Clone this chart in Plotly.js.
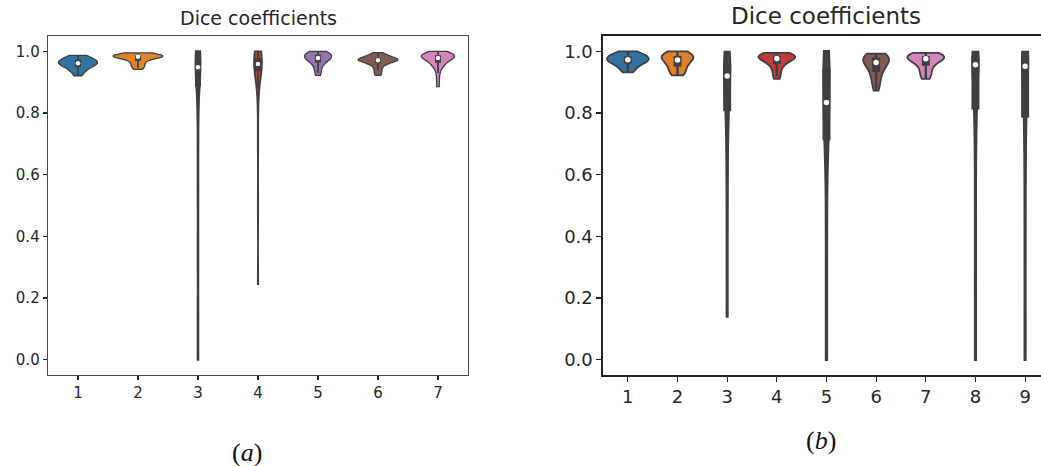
<!DOCTYPE html>
<html><head><meta charset="utf-8">
<script src="https://cdn.plot.ly/plotly-3.0.1.min.js"></script>
<style>html,body{margin:0;padding:0;background:#fff}#chart{width:1041px;height:466px}</style>
</head><body><div id="chart"></div>
<script>
// ---------- data: panel (a) ----------
const catsA = [1, 2, 3, 4, 5, 6, 7];
const a1 = [0.921,0.927,0.933,0.939,0.943,0.946,0.949,0.952,0.955,0.957,0.959,0.960,0.961,0.962,0.963,0.965,0.967,0.969,0.971,0.973,0.975,0.977,0.979,0.982,0.985,0.987];
const a2 = [0.942,0.947,0.952,0.957,0.962,0.967,0.972,0.976,0.979,0.981,0.982,0.983,0.984,0.984,0.985,0.985,0.986,0.987,0.988,0.989,0.990,0.992,0.995];
const a3 = [0.0,0.15,0.35,0.55,0.70,0.80,0.85,0.875,0.89,0.905,0.915,0.925,0.932,0.938,0.943,0.947,0.951,0.955,0.959,0.963,0.967,0.971,0.976,0.981,0.984,0.987,0.990,0.992,0.994,0.996,0.998,1.0];
const a4 = [0.245,0.50,0.70,0.82,0.88,0.91,0.93,0.938,0.942,0.946,0.950,0.953,0.956,0.958,0.960,0.962,0.965,0.968,0.971,0.974,0.977,0.980,0.983,0.986,0.989,0.992,0.996,1.0];
const a5 = [0.922,0.930,0.940,0.950,0.957,0.963,0.967,0.971,0.974,0.976,0.978,0.980,0.982,0.984,0.986,0.988,0.990,0.992,0.994,0.996,0.998,1.0];
const a6 = [0.922,0.930,0.938,0.946,0.953,0.958,0.962,0.965,0.967,0.969,0.970,0.971,0.972,0.973,0.974,0.975,0.976,0.977,0.979,0.981,0.984,0.987,0.991,0.996];
const a7 = [0.886,0.910,0.930,0.945,0.950,0.955,0.962,0.965,0.967,0.971,0.974,0.976,0.978,0.980,0.982,0.984,0.985,0.986,0.987,0.988,0.989,0.990,0.992,0.994,0.997,1.0];

// ---------- data: panel (b) ----------
const catsB = [1, 2, 3, 4, 5, 6, 7, 8, 9];
const b1 = [0.932,0.938,0.944,0.950,0.955,0.959,0.962,0.965,0.967,0.969,0.971,0.973,0.975,0.977,0.979,0.981,0.983,0.985,0.988,0.991,0.994,0.997,1.0];
const b2 = [0.922,0.925,0.928,0.934,0.940,0.946,0.952,0.955,0.958,0.963,0.968,0.971,0.974,0.977,0.979,0.981,0.983,0.985,0.987,0.989,0.991,0.994,0.997,1.0];
const b3 = [0.14,0.30,0.45,0.57,0.66,0.72,0.76,0.795,0.81,0.825,0.84,0.855,0.87,0.885,0.90,0.915,0.925,0.932,0.938,0.943,0.948,0.952,0.956,0.960,0.964,0.968,0.973,0.978,0.983,0.988,0.993,0.998];
const b4 = [0.911,0.920,0.930,0.940,0.948,0.955,0.960,0.965,0.969,0.972,0.974,0.976,0.978,0.980,0.982,0.984,0.985,0.986,0.987,0.988,0.989,0.990,0.992,0.995];
const b5 = [0.0,0.12,0.28,0.42,0.53,0.61,0.67,0.70,0.715,0.73,0.745,0.76,0.775,0.79,0.805,0.825,0.843,0.86,0.875,0.89,0.905,0.918,0.93,0.945,0.955,0.963,0.97,0.977,0.984,0.99,0.995,1.0];
const b6 = [0.873,0.885,0.897,0.908,0.918,0.927,0.935,0.942,0.948,0.953,0.958,0.962,0.966,0.969,0.972,0.975,0.977,0.979,0.981,0.983,0.985,0.988,0.990,0.993];
const b7 = [0.911,0.918,0.926,0.934,0.942,0.950,0.957,0.963,0.968,0.971,0.974,0.976,0.978,0.980,0.982,0.984,0.985,0.986,0.987,0.988,0.990,0.992,0.995];
const b8 = [0.0,0.15,0.32,0.48,0.60,0.70,0.76,0.80,0.815,0.83,0.85,0.87,0.89,0.91,0.93,0.95,0.963,0.968,0.972,0.975,0.978,0.981,0.984,0.986,0.988,0.990,0.992,0.993,0.995,0.996,0.997,0.998];
const b9 = [0.0,0.14,0.30,0.45,0.57,0.67,0.73,0.77,0.79,0.815,0.84,0.86,0.88,0.90,0.925,0.945,0.958,0.965,0.970,0.974,0.978,0.981,0.984,0.986,0.988,0.990,0.992,0.993,0.995,0.996,0.997,0.998];

const yTicks = [0, 0.2, 0.4, 0.6, 0.8, 1.0];
const yTickText = ['0.0', '0.2', '0.4', '0.6', '0.8', '1.0'];

// ---------- styles ----------
const seriesA = [a1, a2, a3, a4, a5, a6, a7];
const seriesB = [b1, b2, b3, b4, b5, b6, b7, b8, b9];
const colorsA = ['#3274a1','#e1812c','#3a923a','#c03d3e','#9372b2','#845b53','#d684bd'];
const colorsB = ['#3274a1','#e1812c','#3a923a','#c03d3e','#9372b2','#845b53','#d684bd','#7f7f7f','#a9aa35'];
const widthsA = [0.65, 0.83, 0.075, 0.13, 0.45, 0.66, 0.55];
const widthsB = [0.84, 0.64, 0.11, 0.74, 0.11, 0.52, 0.74, 0.11, 0.11];
const outlineA = [1.3, 1.3, 2.4, 1.8, 1.3, 1.3, 1.3];
const outlineB = [1.8, 1.8, 2.8, 1.8, 2.8, 1.8, 1.8, 2.8, 2.8];
const bwA = [0, 0, 0.06, 0.05, 0, 0, 0];
const bwB = [0, 0, 0.07, 0, 0.08, 0, 0, 0.07, 0.07];
const DARK = '#3f3f3f';

function quantile(sorted, p) {
  const idx = (sorted.length - 1) * p;
  const lo = Math.floor(idx), hi = Math.ceil(idx);
  return sorted[lo] + (sorted[hi] - sorted[lo]) * (idx - lo);
}

function panelTraces(cats, series, colors, widths, outlines, bws, xa, ya, st) {
  const traces = [];
  cats.forEach((c, i) => {
    const t = {
      type: 'violin', x0: c, y: series[i], xaxis: xa, yaxis: ya,
      width: widths[i], scalegroup: xa + '_' + i, scalemode: 'width',
      spanmode: 'hard', points: false,
      box: {visible: false}, meanline: {visible: false},
      fillcolor: colors[i], line: {color: DARK, width: outlines[i]},
      opacity: 1, hoverinfo: 'skip', showlegend: false
    };
    if (bws[i] > 0) t.bandwidth = bws[i];
    traces.push(t);
  });
  cats.forEach((c, i) => {
    const s = series[i].slice().sort((p, q) => p - q);
    const q1 = quantile(s, 0.25), q2 = quantile(s, 0.5), q3 = quantile(s, 0.75);
    const iqr = q3 - q1;
    const h1 = Math.min(...s.filter(v => v >= q1 - 1.5 * iqr));
    const h2 = Math.max(...s.filter(v => v <= q3 + 1.5 * iqr));
    traces.push({type: 'scatter', mode: 'lines', x: [c, c], y: [h1, h2], xaxis: xa, yaxis: ya,
      line: {color: DARK, width: st.whisker}, hoverinfo: 'skip', showlegend: false});
    traces.push({type: 'scatter', mode: 'lines', x: [c, c], y: [q1, q3], xaxis: xa, yaxis: ya,
      line: {color: DARK, width: st.box}, hoverinfo: 'skip', showlegend: false});
    traces.push({type: 'scatter', mode: 'markers', x: [c], y: [q2], xaxis: xa, yaxis: ya,
      marker: {color: '#ffffff', size: st.dot, line: {width: 0}}, hoverinfo: 'skip', showlegend: false});
  });
  return traces;
}

const data = [].concat(
  panelTraces(catsA, seriesA, colorsA, widthsA, outlineA, bwA, 'x', 'y', {whisker: 1.8, box: 6, dot: 4.5}),
  panelTraces(catsB, seriesB, colorsB, widthsB, outlineB, bwB, 'x2', 'y2', {whisker: 2.4, box: 8, dot: 5.5})
);

const W = 1041, H = 466;
const yDom = [(H - 375) / H, (H - 36) / H];
function axisBase(size, lineColor, lw, tl) {
  return {
    showline: true, linecolor: lineColor, linewidth: lw,
    ticks: 'outside', ticklen: tl, tickwidth: 1.2, tickcolor: '#222',
    showgrid: false, zeroline: false, fixedrange: true,
    tickfont: {family: 'DejaVu Sans', size: size, color: '#262626'}
  };
}

const layout = {
  width: W, height: H,
  margin: {l: 0, r: 0, t: 0, b: 0},
  paper_bgcolor: '#ffffff', plot_bgcolor: '#ffffff',
  violinmode: 'overlay', showlegend: false,
  xaxis: Object.assign(axisBase(15, '#4a4a4a', 1.3, 4), {
    domain: [48 / W, 468 / W], range: [0.5, 7.5], type: 'linear',
    tickvals: catsA, ticktext: catsA.map(String), mirror: true, anchor: 'y'}),
  yaxis: Object.assign(axisBase(15, '#4a4a4a', 1.3, 4), {
    domain: yDom, range: [-0.05, 1.05], tickvals: yTicks, ticktext: yTickText,
    mirror: true, anchor: 'x'}),
  xaxis2: Object.assign(axisBase(18, '#222222', 1.6, 5), {
    domain: [603 / W, 1], range: [0.5, 9.32], type: 'linear',
    tickvals: catsB, ticktext: catsB.map(String), mirror: true, anchor: 'y2'}),
  yaxis2: Object.assign(axisBase(18, '#222222', 1.6, 5), {
    domain: yDom, range: [-0.05, 1.05], tickvals: yTicks, ticktext: yTickText,
    mirror: false, anchor: 'x2'}),
  annotations: [
    {text: 'Dice coefficients', xref: 'paper', yref: 'paper', x: 258 / W, y: (H - 18) / H,
     xanchor: 'center', yanchor: 'middle', showarrow: false,
     font: {family: 'DejaVu Sans', size: 19, color: '#262626'}},
    {text: 'Dice coefficients', xref: 'paper', yref: 'paper', x: 826 / W, y: (H - 16) / H,
     xanchor: 'center', yanchor: 'middle', showarrow: false,
     font: {family: 'DejaVu Sans', size: 23, color: '#262626'}},
    {text: '(<i>a</i>)', xref: 'paper', yref: 'paper', x: 247 / W, y: (H - 452) / H,
     xanchor: 'center', yanchor: 'middle', showarrow: false,
     font: {family: 'Liberation Serif', size: 26, color: '#111'}},
    {text: '(<i>b</i>)', xref: 'paper', yref: 'paper', x: 821 / W, y: (H - 440) / H,
     xanchor: 'center', yanchor: 'middle', showarrow: false,
     font: {family: 'Liberation Serif', size: 26, color: '#111'}}
  ]
};

Plotly.newPlot('chart', data, layout, {displayModeBar: false, staticPlot: true});
</script>
</body></html>
